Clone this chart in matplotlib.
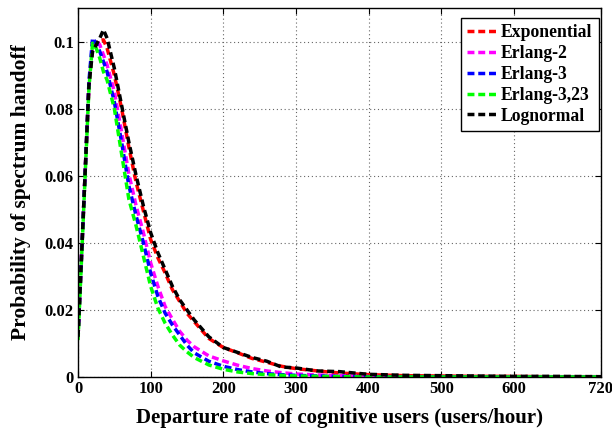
import numpy as np
import matplotlib
matplotlib.use('Agg')
from matplotlib import pyplot as plt

# departure rate grid (users/hour)
x = [0, 5, 10, 15, 20, 25, 30, 35, 40, 50, 60, 70, 80, 90, 100, 110, 120, 130,
     140, 150, 160, 180, 200, 220, 240, 260, 280, 300, 330, 360, 400, 450, 500,
     550, 600, 650, 720]

exponential = [0.012, 0.037, 0.062, 0.087, 0.098, 0.0995, 0.1003, 0.1005, 0.098,
               0.090, 0.080, 0.0685, 0.058, 0.0495, 0.041, 0.0355, 0.031, 0.026,
               0.0225, 0.019, 0.0165, 0.0115, 0.0088, 0.0072, 0.0055, 0.0044,
               0.0032, 0.0025, 0.0018, 0.0012, 0.0007, 0.0004, 0.0003, 0.0002,
               0.0002, 0.0001, 0.0001]
erlang2 = [0.012, 0.037, 0.062, 0.087, 0.0995, 0.1005, 0.099, 0.096, 0.093,
           0.085, 0.073, 0.0605, 0.051, 0.043, 0.034, 0.027, 0.021, 0.0172,
           0.0136, 0.011, 0.009, 0.0063, 0.0048, 0.0035, 0.0025, 0.0018, 0.0013,
           0.0009, 0.0006, 0.0004, 0.0002, 0.0001, 0.0001, 0.0, 0.0, 0.0, 0.0]
erlang3 = [0.012, 0.037, 0.062, 0.088, 0.101, 0.0995, 0.097, 0.094, 0.091,
           0.082, 0.070, 0.057, 0.048, 0.040, 0.031, 0.024, 0.019, 0.0155,
           0.0125, 0.0095, 0.0072, 0.0047, 0.0032, 0.0022, 0.0015, 0.001,
           0.0007, 0.0005, 0.0003, 0.0002, 0.0001, 0.0, 0.0, 0.0, 0.0, 0.0, 0.0]
erlang3_23 = [0.011, 0.036, 0.061, 0.086, 0.0995, 0.098, 0.095, 0.091, 0.0885,
              0.080, 0.0665, 0.053, 0.045, 0.036, 0.027, 0.0205, 0.016, 0.0125,
              0.0095, 0.0075, 0.0058, 0.0036, 0.0023, 0.0015, 0.001, 0.0007,
              0.0005, 0.0003, 0.0002, 0.0001, 0.0, 0.0, 0.0, 0.0, 0.0, 0.0, 0.0]
lognormal = [0.012, 0.037, 0.062, 0.087, 0.097, 0.099, 0.101, 0.1035, 0.101,
             0.092, 0.081, 0.070, 0.060, 0.051, 0.043, 0.037, 0.032, 0.027,
             0.023, 0.020, 0.017, 0.012, 0.0088, 0.0073, 0.0058, 0.0047, 0.003,
             0.0027, 0.0018, 0.0016, 0.0008, 0.0005, 0.0004, 0.0003, 0.0002,
             0.0002, 0.0001]

series = [('Exponential', exponential, 'red'),
          ('Erlang-2', erlang2, 'magenta'),
          ('Erlang-3', erlang3, 'blue'),
          ('Erlang-3,23', erlang3_23, 'lime'),
          ('Lognormal', lognormal, 'black')]

xticks = [0, 100, 200, 300, 400, 500, 600, 720]
yticks = [0, 0.02, 0.04, 0.06, 0.08, 0.1]
ytick_labels = ['0', '0.02', '0.04', '0.06', '0.08', '0.1']

plt.rcParams['font.family'] = 'Liberation Serif'
plt.rcParams['font.weight'] = 'bold'

fig = plt.figure(figsize=(6.12, 4.36), dpi=100)
ax = fig.add_axes([0.1275, 0.1353, 0.8545, 0.8464])

for name, y, c in series:
    ax.plot(x, y, color=c, linestyle='--', dashes=(2.0, 1.1), linewidth=2.5,
            label=name)

ax.set_xlim(0, 720)
ax.set_ylim(0, 0.11)
ax.set_xticks(xticks)
ax.set_yticks(yticks)
ax.set_yticklabels(ytick_labels)
ax.tick_params(direction='in', top=True, right=True, labelsize=12, length=4,
               pad=3)
ax.grid(True, linestyle=(0, (1, 2.5)), color='0.4', linewidth=0.8)
for s in ax.spines.values():
    s.set_linewidth(1.0)

ax.set_xlabel('Departure rate of cognitive users (users/hour)', fontsize=15,
              fontweight='bold', labelpad=8)
ax.set_ylabel('Probability of spectrum handoff', fontsize=15.5,
              fontweight='bold', labelpad=10)

leg = ax.legend(loc='upper right', bbox_to_anchor=(0.996, 0.973),
                fontsize=12.7, fancybox=False, edgecolor='black', framealpha=1,
                handlelength=1.7, handletextpad=0.25, borderaxespad=0,
                labelspacing=0.22, borderpad=0.35)
leg.get_frame().set_linewidth(1.0)

plt.savefig('out.png', dpi=100)
